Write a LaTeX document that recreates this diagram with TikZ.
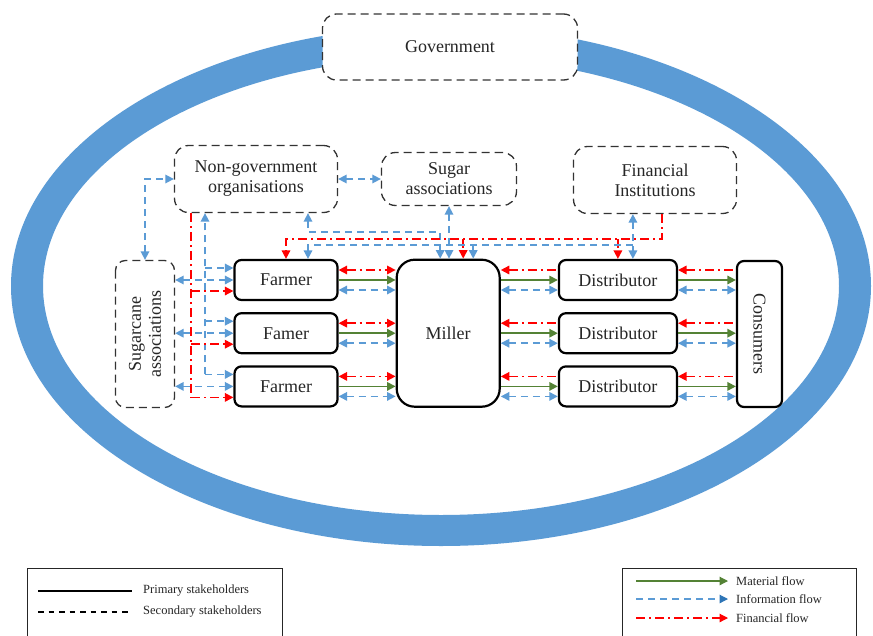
\documentclass[tikz,border=0pt]{standalone}
\usepackage{fontspec}
\setmainfont{Liberation Serif}
\usetikzlibrary{positioning,shapes,arrows.meta}

\definecolor{RingBlue}{RGB}{91,155,213}
\definecolor{InfoBlue}{RGB}{91,155,213}
\definecolor{TipBlue}{RGB}{46,117,182}
\definecolor{MatGreen}{RGB}{84,130,53}

\begin{document}
\begin{tikzpicture}[x=1pt, y=-1pt,
>={Triangle[length=8.5pt,width=8.5pt]},
primary/.style={draw=black, line width=2.2pt, rounded corners=7pt, fill=white, align=center, text=black!85, font=\fontsize{18}{20}\selectfont},
secondary/.style={draw=black!80, line width=1.3pt, dash pattern=on 8pt off 5pt, rounded corners=14pt, fill=white, align=center, text=black!85, font=\fontsize{18}{20}\selectfont},
farmerbox/.style={primary, minimum width=103pt, minimum height=40pt},
distbox/.style={primary, minimum width=118pt, minimum height=40pt},
material/.style={draw=MatGreen, line width=1.6pt},
information/.style={draw=InfoBlue, line width=1.6pt, dash pattern=on 7pt off 5pt},
financial/.style={draw=red, line width=1.6pt, dash pattern=on 9pt off 4pt on 2pt off 4pt},
legendtext/.style={anchor=west, inner sep=0pt, text=black!85, font=\fontsize{12.5}{14}\selectfont},
]

\useasboundingbox (0,0) rectangle (873,635);
\clip (0,0) rectangle (873,635);
\fill[white] (0,0) rectangle (873,635);

% government ring
\fill[RingBlue, even odd rule] (441,286) ellipse [x radius=430, y radius=260]
  (441,286) ellipse [x radius=398, y radius=229];

% secondary stakeholders
\node[secondary, minimum width=255pt, minimum height=66pt] (gov) at (450,47) {Government};
\node[secondary, minimum width=163pt, minimum height=67pt] (ngo) at (256,179) {Non-government\\organisations};
\node[secondary, minimum width=135pt, minimum height=53pt] (sugar) at (449,179) {Sugar\\associations};
\node[secondary, minimum width=163pt, minimum height=67pt] (fin) at (655,180) {Financial\\Institutions};
\node[secondary, rotate=90, rounded corners=10pt, minimum width=147pt, minimum height=59pt] (sca) at (145,334) {Sugarcane\\associations};

% primary stakeholders
\node[farmerbox] (f1) at (286,280) {Farmer};
\node[farmerbox, below=11pt of f1] (f2) {Famer};
\node[farmerbox, below=11pt of f2] (f3) {Farmer};
\node[primary, rounded corners=18pt, minimum width=103pt, minimum height=147pt, right=57pt of f2] (miller) {Miller};
\node[distbox, right=57pt of miller] (d2) {Distributor};
\node[distbox, above=11pt of d2] (d1) {Distributor};
\node[distbox, below=11pt of d2] (d3) {Distributor};
\node[primary, rotate=-90, minimum width=146pt, minimum height=45pt] (con) at (759.5,334) {Consumers};

% flows along the chain
\foreach \i in {1,2,3} {
  \draw[financial, <->] ([yshift=10pt]f\i.east) -- ([yshift=10pt]f\i.east -| miller.west);
  \draw[material, ->] (f\i.east) -- (f\i.east -| miller.west);
  \draw[information, <->] ([yshift=-10pt]f\i.east) -- ([yshift=-10pt]f\i.east -| miller.west);
  \draw[financial, <-] ([yshift=10pt]d\i.west -| miller.east) -- ([yshift=10pt]d\i.west);
  \draw[material, ->] (d\i.west -| miller.east) -- (d\i.west);
  \draw[information, <->] ([yshift=-10pt]d\i.west -| miller.east) -- ([yshift=-10pt]d\i.west);
  \draw[financial, <-] ([yshift=10pt]d\i.east) -- ([yshift=10pt]d\i.east -| con.south);
  \draw[material, ->] (d\i.east) -- (d\i.east -| con.south);
  \draw[information, <->] ([yshift=-10pt]d\i.east) -- ([yshift=-10pt]d\i.east -| con.south);
}

% left side
\coordinate (ibus) at ([xshift=-51pt]ngo.south);
\coordinate (fbus) at ([xshift=-65pt]ngo.south);
\draw[information, ->] ([yshift=12pt]f3.west -| ibus) -- (ibus);
\draw[financial] (fbus) -- ([yshift=-11pt]f3.west -| fbus);
\foreach \i in {1,2,3} {
  \draw[information, ->] ([yshift=12pt]f\i.west -| ibus) -- ([yshift=12pt]f\i.west);
  \draw[information, <->] (f\i.west -| sca.south) -- (f\i.west);
  \draw[financial, ->] ([yshift=-11pt]f\i.west -| fbus) -- ([yshift=-11pt]f\i.west);
}
\draw[information, <->] (sca.east) |- (ngo.west);
\draw[information, <->] (ngo.east) -- (ngo.east -| sugar.west);

% top side
\draw[information, <->] ([xshift=52pt]ngo.south) |- ([xshift=-8pt, yshift=26.5pt]miller.north) -- ([xshift=-8pt]miller.north);
\draw[information, <->] (sugar.south) -- (sugar.south |- miller.north);
\draw[financial, ->] ([xshift=7pt]fin.south) |- ([yshift=20pt]f1.north) -- (f1.north);
\draw[financial, ->] ([xshift=15pt, yshift=20pt]miller.north) -- ([xshift=15pt]miller.north);
\draw[financial, ->] ([yshift=20pt]d1.north) -- (d1.north);
\draw[information, <->] ([xshift=15pt]d1.north |- fin.south) -- ([xshift=15pt]d1.north);
\draw[information, ->] ([xshift=15pt, yshift=14pt]d1.north) -| ([xshift=22pt]f1.north);
\draw[information, ->] ([xshift=25pt, yshift=14pt]miller.north) -- ([xshift=25pt]miller.north);

% legends
\node[draw=black!85, line width=1pt, minimum width=255pt, minimum height=90pt, anchor=north west] (stakeleg) at (27,568) {};
\node[legendtext] (primtext) at (143,591) {Primary stakeholders};
\node[legendtext] (sectext) at (143,612) {Secondary stakeholders};
\draw[line width=2.2pt] ([xshift=-105pt]primtext.west) -- ([xshift=-11pt]primtext.west);
\draw[line width=1.2pt, dash pattern=on 5.5pt off 5pt] ([xshift=-105pt]sectext.west) -- ([xshift=-11pt]sectext.west);

\node[draw=black!85, line width=1pt, minimum width=234pt, minimum height=90pt, anchor=north west] (flowleg) at (622,568) {};
\node[legendtext] (mattext) at (736,581) {Material flow};
\node[legendtext] (inftext) at (736,599) {Information flow};
\node[legendtext] (fintext) at (736,618) {Financial flow};
\draw[material, line width=1.2pt, ->] ([xshift=-100pt]mattext.west) -- ([xshift=-8pt]mattext.west);
\draw[information, line width=1.2pt, -{Triangle[length=8.5pt,width=8.5pt,color=TipBlue]}] ([xshift=-100pt]inftext.west) -- ([xshift=-8pt]inftext.west);
\draw[financial, line width=1.2pt, ->] ([xshift=-100pt]fintext.west) -- ([xshift=-8pt]fintext.west);

\end{tikzpicture}
\end{document}
